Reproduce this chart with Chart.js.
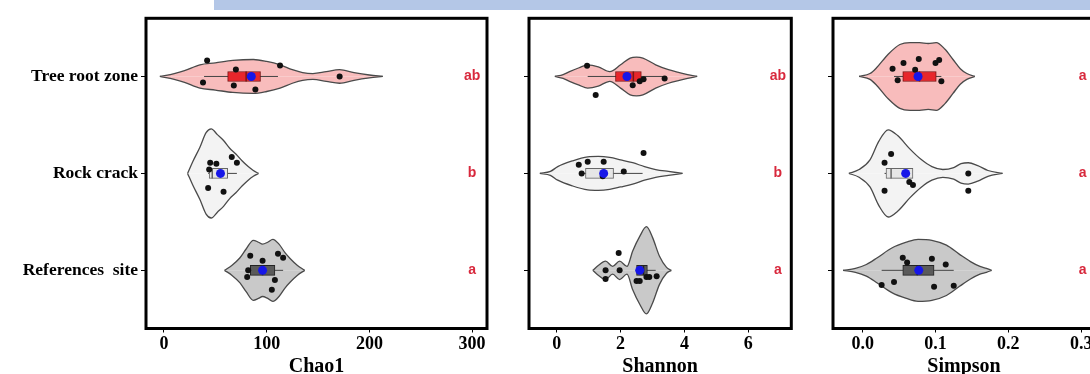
<!DOCTYPE html>
<html>
<head>
<meta charset="utf-8">
<title>Alpha diversity by site</title>
<script src="https://cdn.jsdelivr.net/npm/chart.js@4/dist/chart.umd.min.js"></script>
<style>
  html, body { margin: 0; padding: 0; background: #fff; width: 1090px; height: 374px; overflow: hidden; position: relative; }
  .band { position: absolute; left: 214px; top: 0; width: 876px; height: 10px; background: #b4c7e7; }
  .panel { position: absolute; top: 0; height: 390px; }
</style>
</head>
<body>
<div class="band"></div>
<div class="panel" style="left:0;width:500px"><canvas id="chao"></canvas></div>
<div class="panel" style="left:500px;width:310px"><canvas id="shannon"></canvas></div>
<div class="panel" style="left:810px;width:300px"><canvas id="simpson"></canvas></div>
<script>
// ---- sites (top to bottom) ----
const sites = ['Tree root zone', 'Rock crack', 'References  site'];

// ---- Chao1 ----
const chaoTicks = [0, 100, 200, 300];
const chaoTickLabels = ['0', '100', '200', '300'];
const chaoLetters = ['ab', 'b', 'a'];
const chaoLetterAt = 300;
// violin outlines: value positions and half-widths (in site spacing units)
const chaoTreeAt = [-4, 10, 20, 35, 50, 67, 87, 100, 113, 125, 135, 145, 158, 171, 185, 200, 213];
const chaoTreeWidth = [0, 0.03, 0.06, 0.12, 0.14, 0.165, 0.175, 0.155, 0.12, 0.07, 0.04, 0.03, 0.05, 0.07, 0.04, 0.015, 0];
const chaoRockAt = [23, 28, 35, 41, 46, 52, 58, 64, 70, 76, 82, 87, 92];
const chaoRockWidth = [0, 0.12, 0.27, 0.42, 0.46, 0.40, 0.34, 0.26, 0.20, 0.13, 0.07, 0.03, 0];
const chaoRefAt = [59, 66, 74, 80, 87, 92, 96, 101, 106, 112, 118, 123, 130, 137];
const chaoRefWidth = [0, 0.05, 0.13, 0.22, 0.31, 0.29, 0.27, 0.29, 0.32, 0.27, 0.18, 0.12, 0.05, 0];
// box stats: [lower whisker, Q1, median, Q3, upper whisker]
const chaoBox = [[39, 62, 80, 94, 111], [43, 44, 47, 62, 71], [81, 84, 96, 108, 116]];
const chaoMean = [85, 55, 96];
// samples and their vertical jitter
const chaoTreePts = [42, 70, 113, 38, 68, 89, 171];
const chaoTreeJit = [-0.165, -0.072, -0.113, 0.062, 0.093, 0.134, 0];
const chaoRockPts = [45, 51, 66, 71, 44, 43, 58];
const chaoRockJit = [-0.11, -0.10, -0.17, -0.11, -0.04, 0.15, 0.19];
const chaoRefPts = [84, 96, 111, 116, 82, 81, 108, 105];
const chaoRefJit = [-0.15, -0.10, -0.17, -0.13, 0, 0.07, 0.10, 0.20];

// ---- Shannon ----
const shanTicks = [0, 2, 4, 6];
const shanTickLabels = ['0', '2', '4', '6'];
const shanLetters = ['ab', 'b', 'a'];
const shanLetterAt = 6.93;
const shanTreeAt = [-0.06, 0.2, 0.4, 0.7, 0.97, 1.3, 1.66, 2.0, 2.3, 2.5, 2.7, 3.1, 3.5, 3.84, 4.1, 4.4];
const shanTreeWidth = [0, 0.02, 0.05, 0.09, 0.12, 0.10, 0.05, 0.12, 0.19, 0.20, 0.19, 0.12, 0.07, 0.04, 0.02, 0];
const shanRockAt = [-0.53, -0.2, 0.03, 0.5, 0.97, 1.3, 1.66, 2.0, 2.38, 2.75, 3.1, 3.5, 3.94];
const shanRockWidth = [0, 0.02, 0.07, 0.13, 0.17, 0.175, 0.165, 0.14, 0.11, 0.07, 0.04, 0.02, 0];
const shanRefAt = [1.13, 1.3, 1.53, 1.75, 1.97, 2.2, 2.38, 2.6, 2.81, 3.0, 3.22, 3.44, 3.59];
const shanRefWidth = [0, 0.05, 0.095, 0.04, 0.095, 0.04, 0.2, 0.35, 0.45, 0.34, 0.145, 0.03, 0];
const shanBox = [[0.97, 1.84, 2.4, 2.65, 3.37], [0.78, 0.9, 1.47, 1.78, 2.69], [2.5, 2.5, 2.72, 2.84, 3.1]];
const shanMean = [2.2, 1.47, 2.6];
const shanTreePts = [0.95, 1.22, 2.38, 2.6, 2.72, 3.38];
const shanTreeJit = [-0.11, 0.19, 0.09, 0.05, 0.03, 0.02];
const shanRockPts = [0.69, 0.97, 1.47, 2.72, 2.1, 0.78, 1.44];
const shanRockJit = [-0.09, -0.12, -0.12, -0.21, -0.02, 0, 0.03];
const shanRefPts = [1.53, 1.53, 1.94, 1.97, 2.5, 2.6, 2.81, 2.9, 3.13];
const shanRefJit = [0, 0.09, -0.18, 0, 0.11, 0.11, 0.07, 0.07, 0.06];

// ---- Simpson ----
const simpTicks = [0, 0.1, 0.2, 0.3];
const simpTickLabels = ['0.0', '0.1', '0.2', '0.3'];
const simpLetters = ['a', 'a', 'a'];
const simpLetterAt = 0.302;
const simpTreeAt = [-0.005, 0.01, 0.019, 0.035, 0.051, 0.065, 0.078, 0.09, 0.101, 0.113, 0.124, 0.134, 0.143, 0.154];
const simpTreeWidth = [0, 0.03, 0.09, 0.23, 0.33, 0.35, 0.35, 0.34, 0.35, 0.28, 0.175, 0.08, 0.03, 0];
const simpRockAt = [-0.019, -0.005, 0.01, 0.022, 0.035, 0.048, 0.065, 0.08, 0.095, 0.11, 0.125, 0.135, 0.145, 0.158, 0.172, 0.192];
const simpRockWidth = [0, 0.04, 0.14, 0.33, 0.45, 0.39, 0.25, 0.145, 0.07, 0.04, 0.06, 0.10, 0.11, 0.08, 0.03, 0];
const simpRefAt = [-0.027, -0.01, 0.005, 0.02, 0.04, 0.06, 0.076, 0.095, 0.115, 0.133, 0.148, 0.161, 0.17, 0.177];
const simpRefWidth = [0, 0.02, 0.06, 0.13, 0.23, 0.29, 0.32, 0.31, 0.26, 0.165, 0.09, 0.04, 0.02, 0];
const simpBox = [[0.043, 0.055, 0.078, 0.101, 0.108], [0.03, 0.032, 0.039, 0.069, 0.069], [0.026, 0.055, 0.075, 0.098, 0.125]];
const simpMean = [0.076, 0.059, 0.077];
const simpTreePts = [0.041, 0.056, 0.077, 0.072, 0.048, 0.1, 0.105, 0.108];
const simpTreeJit = [-0.08, -0.14, -0.18, -0.07, 0.04, -0.14, -0.17, 0.05];
const simpRockPts = [0.039, 0.03, 0.145, 0.064, 0.069, 0.03, 0.145];
const simpRockJit = [-0.2, -0.11, 0, 0.09, 0.12, 0.18, 0.18];
const simpRefPts = [0.055, 0.061, 0.095, 0.114, 0.026, 0.043, 0.098, 0.125];
const simpRefJit = [-0.13, -0.08, -0.12, -0.06, 0.15, 0.12, 0.17, 0.16];

// ---- styling ----
const violinFill = ['#f8bcbc', '#f3f3f3', '#c9c9c9'];
const boxFill = ['#e8262b', '#e6e6e6', '#5a5a5a'];
const boxEdge = ['#7a1515', '#666666', '#222222'];
const outline = '#4a4a4a';
const serif = '"Liberation Serif", "DejaVu Serif", serif';
const letterRed = '#d8283c';

// frame around the plotting area and the significance letters
const framePlugin = {
  id: 'frame',
  afterDatasetsDraw(chart, args, opts) {
    const { ctx, chartArea: a, scales } = chart;
    ctx.save();
    ctx.fillStyle = letterRed;
    ctx.font = 'bold 14px "Liberation Sans", Arial, sans-serif';
    ctx.textAlign = 'center';
    ctx.textBaseline = 'middle';
    opts.letters.forEach((t, i) => {
      ctx.fillText(t, scales.x.getPixelForValue(opts.letterAt), scales.y.getPixelForValue(i));
    });
    ctx.strokeStyle = '#000';
    ctx.lineWidth = 3;
    ctx.strokeRect(a.left, a.top, a.right - a.left, a.bottom - a.top);
    ctx.restore();
  }
};

function buildPanel(id, p) {
  const datasets = [];
  const shapes = [[p.treeAt, p.treeWidth], [p.rockAt, p.rockWidth], [p.refAt, p.refWidth]];
  const samples = [[p.treePts, p.treeJit], [p.rockPts, p.rockJit], [p.refPts, p.refJit]];
  shapes.forEach(([at, w], i) => {
    [-1, 1].forEach(side => {
      datasets.push({
        type: 'line',
        data: at.map((v, k) => ({ x: v, y: i + side * w[k] })),
        borderColor: outline,
        borderWidth: 1.3,
        backgroundColor: violinFill[i],
        fill: { target: { value: i } },
        pointRadius: 0,
        cubicInterpolationMode: 'monotone',
        order: 6
      });
    });
    const b = p.box[i];
    datasets.push({
      type: 'line',
      data: [{ x: b[0], y: i }, { x: b[4], y: i }],
      borderColor: '#444',
      borderWidth: 1,
      pointRadius: 0,
      fill: false,
      order: 5
    });
  });
  datasets.push({
    type: 'bar',
    indexAxis: 'y',
    data: p.box.map((b, i) => ({ x: [b[1], b[3]], y: i })),
    backgroundColor: boxFill,
    borderColor: boxEdge,
    borderWidth: 1,
    borderSkipped: false,
    barThickness: 10,
    order: 4
  });
  datasets.push({
    type: 'scatter',
    data: p.box.map((b, i) => ({ x: b[2], y: i })),
    pointStyle: 'line',
    rotation: 90,
    pointRadius: 5,
    borderColor: boxEdge,
    borderWidth: 1.5,
    order: 3
  });
  samples.forEach(([pts, jit], i) => {
    datasets.push({
      type: 'scatter',
      data: pts.map((v, k) => ({ x: v, y: i + jit[k] })),
      pointRadius: 3,
      backgroundColor: '#111',
      borderWidth: 0,
      order: 2
    });
  });
  datasets.push({
    type: 'scatter',
    data: p.mean.map((m, i) => ({ x: m, y: i })),
    pointRadius: 4.5,
    backgroundColor: '#1616e8',
    borderWidth: 0,
    order: 1
  });

  return new Chart(document.getElementById(id), {
    type: 'scatter',
    data: { datasets },
    plugins: [framePlugin],
    options: {
      responsive: true,
      maintainAspectRatio: false,
      animation: false,
      events: [],
      layout: { padding: { left: 0, right: p.padRight, top: 18.3, bottom: 0 } },
      plugins: {
        legend: { display: false },
        tooltip: { enabled: false },
        frame: { letters: p.letters, letterAt: p.letterAt }
      },
      scales: {
        x: {
          type: 'linear',
          offset: false,
          min: p.xMin,
          max: p.xMax,
          afterBuildTicks: s => { s.ticks = p.ticks.map(v => ({ value: v })); },
          afterFit: s => { s.height = 61.5; },
          ticks: {
            autoSkip: false,
            maxRotation: 0,
            padding: 1,
            color: '#000',
            font: { family: serif, size: 18, weight: 'bold' },
            callback: (v, i) => p.tickLabels[i]
          },
          grid: { offset: false, drawOnChartArea: false, drawTicks: true, tickLength: 4, color: '#000', lineWidth: 1 },
          border: { display: false },
          title: {
            display: true,
            text: p.title,
            color: '#000',
            font: { family: serif, size: 20, weight: 'bold' },
            padding: { top: 0, bottom: 11.5 }
          }
        },
        y: {
          type: 'linear',
          offset: false,
          min: -0.6,
          max: 2.6,
          reverse: true,
          afterBuildTicks: s => { s.ticks = sites.map((_, i) => ({ value: i })); },
          afterFit: s => { s.width = p.yWidth; },
          ticks: {
            padding: 3,
            color: '#000',
            font: { family: serif, size: 17.5, weight: 'bold' },
            callback: (v, i) => (p.showSites ? sites[i] : '')
          },
          grid: { offset: false, drawOnChartArea: false, drawTicks: true, tickLength: 5, color: '#000', lineWidth: 1 },
          border: { display: false }
        }
      }
    }
  });
}

buildPanel('chao', {
  title: 'Chao1', ticks: chaoTicks, tickLabels: chaoTickLabels, letters: chaoLetters, letterAt: chaoLetterAt,
  xMin: -17.5, xMax: 314.5, yWidth: 146, padRight: 13, showSites: true,
  treeAt: chaoTreeAt, treeWidth: chaoTreeWidth, rockAt: chaoRockAt, rockWidth: chaoRockWidth, refAt: chaoRefAt, refWidth: chaoRefWidth,
  box: chaoBox, mean: chaoMean,
  treePts: chaoTreePts, treeJit: chaoTreeJit, rockPts: chaoRockPts, rockJit: chaoRockJit, refPts: chaoRefPts, refJit: chaoRefJit
});
buildPanel('shannon', {
  title: 'Shannon', ticks: shanTicks, tickLabels: shanTickLabels, letters: shanLetters, letterAt: shanLetterAt,
  xMin: -0.87, xMax: 7.35, yWidth: 29, padRight: 18.7, showSites: false,
  treeAt: shanTreeAt, treeWidth: shanTreeWidth, rockAt: shanRockAt, rockWidth: shanRockWidth, refAt: shanRefAt, refWidth: shanRefWidth,
  box: shanBox, mean: shanMean,
  treePts: shanTreePts, treeJit: shanTreeJit, rockPts: shanRockPts, rockJit: shanRockJit, refPts: shanRefPts, refJit: shanRefJit
});
buildPanel('simpson', {
  title: 'Simpson', ticks: simpTicks, tickLabels: simpTickLabels, letters: simpLetters, letterAt: simpLetterAt,
  xMin: -0.0408, xMax: 0.319, yWidth: 23, padRight: 15, showSites: false,
  treeAt: simpTreeAt, treeWidth: simpTreeWidth, rockAt: simpRockAt, rockWidth: simpRockWidth, refAt: simpRefAt, refWidth: simpRefWidth,
  box: simpBox, mean: simpMean,
  treePts: simpTreePts, treeJit: simpTreeJit, rockPts: simpRockPts, rockJit: simpRockJit, refPts: simpRefPts, refJit: simpRefJit
});
</script>
</body>
</html>
